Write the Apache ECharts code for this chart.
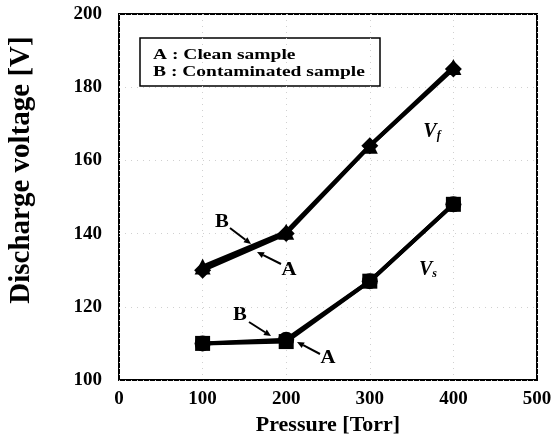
<!DOCTYPE html>
<html>
<head>
<meta charset="utf-8">
<script src="https://cdn.jsdelivr.net/npm/echarts@6/dist/echarts.min.js"></script>
<style>
  html, body { margin: 0; padding: 0; background: #fff; }
  #chart { width: 560px; height: 443px; }
</style>
</head>
<body>
<div id="chart"></div>
<script>
// pressure [Torr]
const pressure = [100, 200, 300, 400];
// firing voltage Vf
const vfClean = [130, 140, 164, 185];
const vfContaminated = [131, 140.5, 164, 185.5];
// sustaining voltage Vs
const vsClean = [110, 111, 127, 148];
const vsContaminated = [110, 110.5, 127, 148];

const xTicks = [0, 100, 200, 300, 400, 500];
const yTicks = [100, 120, 140, 160, 180, 200];

const serif = '"Liberation Serif", "DejaVu Serif", serif';

const pairs = function (ys) {
    return pressure.map((x, i) => [x, ys[i]]);
};

// small arrow: line from (x1,y1) with head at (x2,y2)
const arrow = function (x1, y1, x2, y2) {
    const a = Math.atan2(y2 - y1, x2 - x1);
    const len = 7, w = 3.2;
    const bx = x2 - len * Math.cos(a), by = y2 - len * Math.sin(a);
    const px = -Math.sin(a) * w, py = Math.cos(a) * w;
    return [
        { type: 'line', shape: { x1: x1, y1: y1, x2: bx, y2: by }, style: { stroke: '#000', lineWidth: 2 } },
        { type: 'polygon', shape: { points: [[x2, y2], [bx + px, by + py], [bx - px, by - py]] }, style: { fill: '#000' } }
    ];
};

const letter = function (txt, x, y) {
    return {
        type: 'text', x: x, y: y, scaleX: 1.15,
        style: { text: txt, font: 'bold 18px ' + serif, fill: '#000', align: 'center', verticalAlign: 'middle' }
    };
};

const lineSeries = function (name, data, symbol, size) {
    return {
        name: name,
        type: 'line',
        data: pairs(data),
        symbol: symbol,
        symbolSize: size,
        lineStyle: { color: '#000', width: 4 },
        itemStyle: { color: '#000' },
        emphasis: { disabled: true }
    };
};

const chart = echarts.init(document.getElementById('chart'));

const option = {
    animation: false,
    grid: {
        left: 119, right: 23, top: 14, bottom: 63,
        show: true, borderColor: '#000', borderWidth: 2
    },
    xAxis: {
        type: 'value',
        min: xTicks[0], max: xTicks[xTicks.length - 1], interval: 100,
        name: 'Pressure [Torr]',
        nameLocation: 'middle',
        nameGap: 32,
        nameTextStyle: { fontFamily: serif, fontWeight: 'bold', fontSize: 22, color: '#000' },
        axisLine: { show: false },
        axisTick: { show: false },
        axisLabel: { margin: 10, fontFamily: serif, fontWeight: 'bold', fontSize: 19, color: '#000' },
        splitLine: { show: true, lineStyle: { color: '#d0d0d0', type: [1, 5], width: 1 } }
    },
    yAxis: {
        type: 'value',
        min: yTicks[0], max: yTicks[yTicks.length - 1], interval: 20,
        axisLine: { show: false },
        axisTick: { show: false },
        axisLabel: { margin: 17, fontFamily: serif, fontWeight: 'bold', fontSize: 19, color: '#000' },
        splitLine: { show: true, lineStyle: { color: '#d0d0d0', type: [1, 5], width: 1 } }
    },
    series: [
        lineSeries('Vf A : Clean sample', vfClean, 'diamond', 17),
        lineSeries('Vf B : Contaminated sample', vfContaminated, 'triangle', 16),
        lineSeries('Vs B : Contaminated sample', vsContaminated, 'rect', 15),
        lineSeries('Vs A : Clean sample', vsClean, 'circle', 16)
    ],
    graphic: [
        {
            type: 'text', x: 22, y: 170, rotation: Math.PI / 2,
            style: { text: 'Discharge voltage [V]', font: 'bold 29px ' + serif, fill: '#000', align: 'center', verticalAlign: 'middle' }
        },
        {
            type: 'rect', shape: { x: 140, y: 38, width: 240, height: 48 },
            style: { fill: '#fff', stroke: '#000', lineWidth: 1.5 }
        },
        {
            type: 'text', x: 153, y: 55, scaleX: 1.3,
            style: { text: 'A : Clean sample', font: 'bold 15px ' + serif, fill: '#000', verticalAlign: 'middle' }
        },
        {
            type: 'text', x: 153, y: 72, scaleX: 1.3,
            style: { text: 'B : Contaminated sample', font: 'bold 15px ' + serif, fill: '#000', verticalAlign: 'middle' }
        },
        {
            type: 'text', x: 432, y: 132,
            style: {
                text: '{v|V}{s|f}',
                rich: {
                    v: { font: 'italic bold 20px ' + serif, fill: '#000' },
                    s: { font: 'italic bold 12px ' + serif, fill: '#000', padding: [8, 0, 0, 0] }
                },
                align: 'center', verticalAlign: 'middle'
            }
        },
        {
            type: 'text', x: 428, y: 270,
            style: {
                text: '{v|V}{s|s}',
                rich: {
                    v: { font: 'italic bold 20px ' + serif, fill: '#000' },
                    s: { font: 'italic bold 12px ' + serif, fill: '#000', padding: [8, 0, 0, 0] }
                },
                align: 'center', verticalAlign: 'middle'
            }
        },
        letter('B', 222, 222),
        letter('A', 289, 270),
        letter('B', 240, 315),
        letter('A', 328, 358)
    ].concat(
        arrow(230, 228, 251, 244),
        arrow(281, 264, 257, 252),
        arrow(249, 322, 271, 336),
        arrow(320, 354, 297, 342)
    )
};

chart.setOption(option);
</script>
</body>
</html>
